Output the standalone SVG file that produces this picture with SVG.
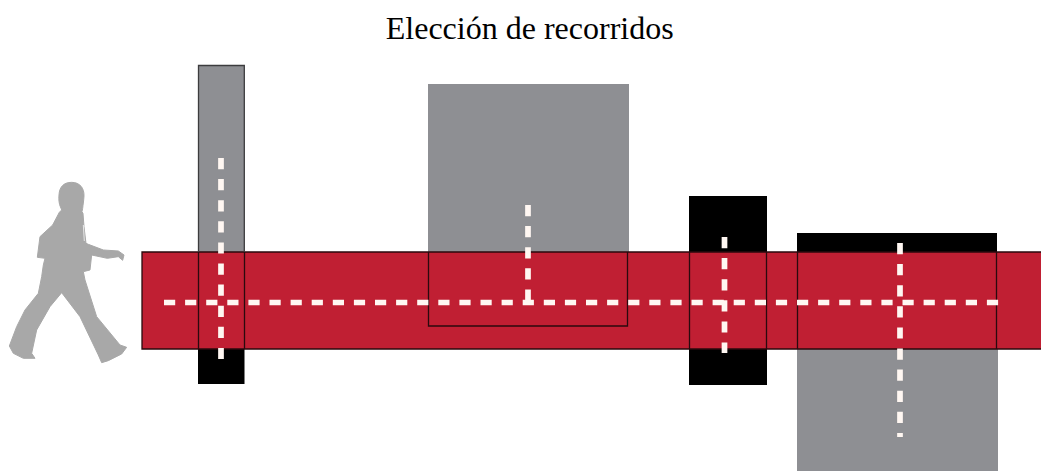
<svg xmlns="http://www.w3.org/2000/svg" width="1041" height="471" viewBox="0 0 1041 471">
<style>
.gray{fill:#8e8f93}
.black{fill:#000}
.red{fill:#c01f33}
.line{fill:none;stroke:#2a0a0e;stroke-width:1.3}
.edge{fill:none;stroke:#3c3c3e;stroke-width:1.3}
.dash{fill:none;stroke:#fff7f2;stroke-width:5.700;stroke-dasharray:11.2 9.9}
.title{font-family:"Liberation Serif","Times New Roman",serif;font-size:32px;fill:#000}
</style>
<rect width="1041" height="471" fill="#fff"/>
<text id="title" class="title" x="529.700" y="38.500" text-anchor="middle">Elección de recorridos</text>
<g id="person"><g transform="translate(0,170) scale(.3333)"><path fill="#a8a8a8" stroke="#a8a8a8" stroke-width="3" stroke-linejoin="round" d="M177 75C178 50 192 37 215 37C240 37 253 55 252 78C251 95 249 105 248 115L246 125L249 130L252 170L258 220L265 223L310 240L355 243L372 255L368 271L355 260L322 265L275 255L270 300L250 305L255 330L290 440L360 525L380 532L365 552L325 572L305 578L295 555L240 440L185 368L150 410L110 480L95 550L105 565L70 565L40 550L28 528L50 470L75 420L115 370L125 320L130 285L135 265L112 262L120 200L158 165L178 127L185 120L183 115C176 100 176 88 177 75Z"/><path fill="none" stroke="#e8e8e8" stroke-width="3" d="M250 165L253 213"/></g></g>
<g id="cross-1-back"><rect class="gray" x="198" y="65" width="46.500" height="187"/><rect class="black" x="198" y="349" width="46.500" height="35"/></g>
<g id="cross-2-back"><rect class="gray" x="428" y="84" width="201" height="168"/></g>
<g id="cross-3-back"><rect class="black" x="689" y="196" width="78" height="56"/><rect class="black" x="689" y="349" width="78" height="36"/></g>
<g id="cross-4-back"><rect class="black" x="797" y="233" width="200" height="19"/><rect class="gray" x="797" y="349" width="201" height="122"/></g>
<g id="band"><rect class="red" x="142" y="252" width="899" height="97"/><path class="line" d="M1041 252H142V349H1041"/></g>
<g id="outlines">
<path class="edge" d="M198.500 252V65.500H244.300V252"/>
<path class="line" d="M198.500 252V349M244.500 252V349"/>
<path class="line" d="M428.500 252V326H627.500V252"/>
<path class="line" d="M689.500 252V349M766.500 252V349"/>
<path class="line" d="M797.500 252V349M996.500 252V349"/>
</g>
<g id="connectors">
<path class="dash" d="M164 302.500H1002"/>
<path class="dash" d="M221 158V359"/>
<path class="dash" d="M528 205V302"/>
<path class="dash" d="M724.500 237V353"/>
<path class="dash" d="M900 243V437"/>
</g>
</svg>
